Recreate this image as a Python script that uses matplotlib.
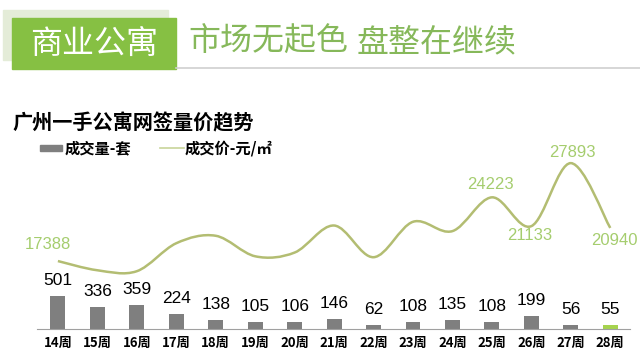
import matplotlib
matplotlib.use('Agg')
import matplotlib.pyplot as plt
from matplotlib.patches import Rectangle, PathPatch
from matplotlib.path import Path
from matplotlib.lines import Line2D

plt.rcParams['font.family'] = ['Noto Sans CJK SC', 'DejaVu Sans']

# Data
weeks = ['14周', '15周', '16周', '17周', '18周', '19周', '20周', '21周',
         '22周', '23周', '24周', '25周', '26周', '27周', '28周']
volume = [501, 336, 359, 224, 138, 105, 106, 146, 62, 108, 135, 108, 199, 56, 55]
price = [17388, 16400, 16300, 19300, 20100, 17900, 18300, 21200,
         17800, 21600, 20600, 24223, 21133, 27893, 20940]
labelled_price = [0, 11, 12, 13, 14]

BAR_GREY = '#7f7f7f'
BAR_LAST = '#a6d34e'
LINE_COL = '#b3bd72'
PRICE_TXT = '#a5cd6e'
HEAD_GREEN = '#86c043'
NUM_FONT = ['Liberation Sans', 'Noto Sans CJK SC']

fig = plt.figure(figsize=(6.4, 3.6), dpi=100)

# Header
fig.patches.append(Rectangle((3 / 640, 1 - 60 / 360), 165 / 640, 50 / 360,
                             transform=fig.transFigure, color='#e4ecd8', zorder=0))
fig.patches.append(Rectangle((12 / 640, 1 - 69 / 360), 164 / 640, 51 / 360,
                             transform=fig.transFigure, color=HEAD_GREEN, zorder=1))
fig.lines.append(Line2D([176 / 640, 1.0], [1 - 68 / 360] * 2, transform=fig.transFigure,
                        color='#cfcfcf', lw=1.2))
fig.text(94 / 640, 1 - 44 / 360, '商业公寓', color='white', fontsize=23,
         ha='center', va='center', zorder=2)
fig.text(188 / 640, 1 - 42 / 360, '市场无起色', color='#86b85a', fontsize=23,
         ha='left', va='center')
fig.text(357 / 640, 1 - 42 / 360, '盘整在继续', color='#86b85a', fontsize=23,
         ha='left', va='center')

# Subtitle and legend
fig.text(12 / 640, 1 - 123 / 360, '广州一手公寓网签量价趋势', fontsize=14.5,
         fontweight='bold', ha='left', va='center')
fig.patches.append(Rectangle((40 / 640, 1 - 151 / 360), 22 / 640, 6 / 360,
                             transform=fig.transFigure, color=BAR_GREY))
fig.text(65 / 640, 1 - 148 / 360, '成交量-套', fontsize=11, fontweight='bold',
         ha='left', va='center')
fig.lines.append(Line2D([160 / 640, 184 / 640], [1 - 148 / 360] * 2,
                        transform=fig.transFigure, color='#c8d49a', lw=1.2))
fig.text(185 / 640, 1 - 148 / 360, '成交价-元/㎡', fontsize=11, fontweight='bold',
         ha='left', va='center')

# Plot area
ax = fig.add_axes([37 / 640, 1 - 329 / 360, 593 / 640, 179 / 360])
x = list(range(len(weeks)))
colors = [BAR_GREY] * (len(weeks) - 1) + [BAR_LAST]
ax.bar(x, volume, width=0.38, color=colors)
for xi, v in zip(x, volume):
    ax.annotate(str(v), (xi, v), xytext=(0, 6), textcoords='offset points',
                ha='center', va='bottom', fontsize=12.5, family=NUM_FONT)
ax.set_xlim(-0.53, 14.5)
ax.set_ylim(0, 2720)
ax.set_xticks(x)
ax.set_xticklabels(weeks, fontsize=9.5, fontweight='bold')
ax.tick_params(axis='x', length=0, pad=5)
ax.set_yticks([])
for s in ['top', 'right', 'left']:
    ax.spines[s].set_visible(False)
ax.spines['bottom'].set_color('#a0a0a0')

ax2 = ax.twinx()
ax2.set_ylim(10100, 29300)
ax2.set_yticks([])
for s in ax2.spines.values():
    s.set_visible(False)

# Smoothed price line (Catmull-Rom as cubic Bezier segments)
pts = list(zip(x, price))
verts = [pts[0]]
codes = [Path.MOVETO]
n = len(pts)
for i in range(n - 1):
    p0 = pts[i - 1] if i > 0 else pts[i]
    p1 = pts[i]
    p2 = pts[i + 1]
    p3 = pts[i + 2] if i + 2 < n else pts[i + 1]
    c1 = (p1[0] + (p2[0] - p0[0]) / 6, p1[1] + (p2[1] - p0[1]) / 6)
    c2 = (p2[0] - (p3[0] - p1[0]) / 6, p2[1] - (p3[1] - p1[1]) / 6)
    verts += [c1, c2, p2]
    codes += [Path.CURVE4] * 3
ax2.add_patch(PathPatch(Path(verts, codes), facecolor='none', edgecolor=LINE_COL, lw=1.8))

offsets = {0: (-7, 12), 11: (-1, 9), 12: (-1, -7), 13: (1, 8), 14: (3, -9)}
for i in labelled_price:
    dx, dy = offsets[i]
    ax2.annotate(str(price[i]), (x[i], price[i]), xytext=(dx, dy), textcoords='offset points',
                 ha='center', va='center', fontsize=12, color=PRICE_TXT, family=NUM_FONT)

fig.savefig('out.png', dpi=100)
